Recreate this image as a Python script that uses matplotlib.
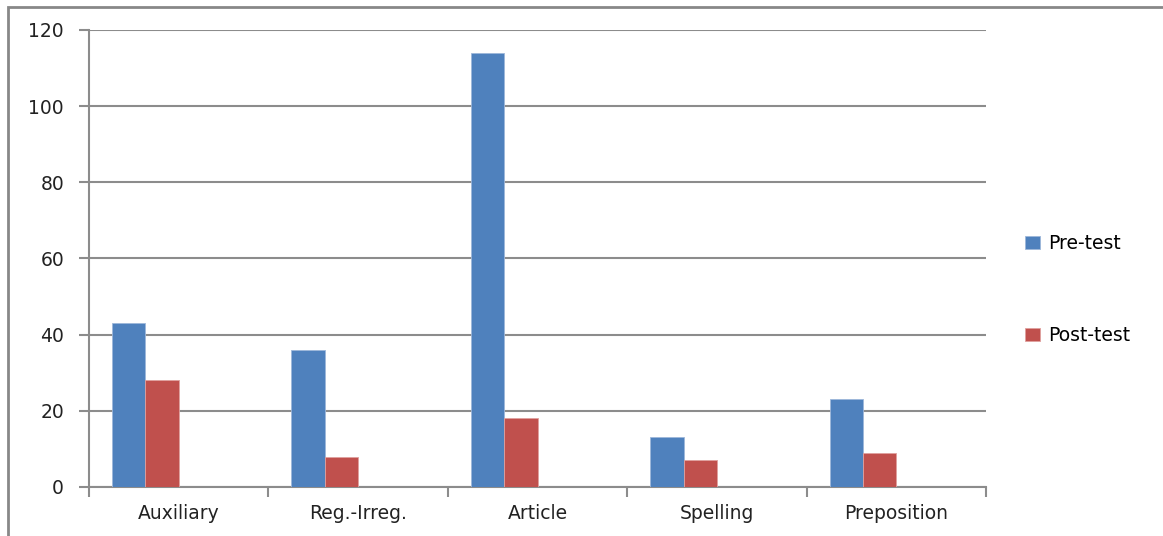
import numpy as np
import matplotlib.pyplot as plt
import matplotlib.patches as patches

# Data
categories = ['Auxiliary', 'Reg.-Irreg.', 'Article', 'Spelling', 'Preposition']
pre_test = [43, 36, 114, 13, 23]
post_test = [28, 8, 18, 7, 9]
y_ticks = [0, 20, 40, 60, 80, 100, 120]

blue = '#4F81BD'
red = '#C0504D'
grey = '#8C8C8C'
fs = 13.5

fig = plt.figure(figsize=(11.63, 5.36), dpi=100)
ax = fig.add_axes([89 / 1163, 1 - 487 / 536, (986 - 89) / 1163, (487 - 29.8) / 536])

x = np.arange(len(categories))
w = 0.186
ax.bar(x - 0.279, pre_test, w, color=blue, edgecolor='#9DB7DA', linewidth=0.6,
       label='Pre-test', zorder=3)
ax.bar(x - 0.093, post_test, w, color=red, edgecolor='#E0A09E', linewidth=0.6,
       label='Post-test', zorder=3)

ax.set_xlim(-0.5, len(categories) - 0.5)
ax.set_ylim(0, 120)
ax.set_yticks(y_ticks)
ax.yaxis.grid(True, color=grey, linewidth=1.5, zorder=0)

# category boundaries as major ticks, names on minor ticks
ax.set_xticks(np.arange(len(categories) + 1) - 0.5)
ax.set_xticklabels([])
ax.set_xticks(x, minor=True)
ax.set_xticklabels(categories, minor=True, fontsize=fs, color='#222222')
ax.tick_params(axis='x', which='minor', length=0, pad=12)
ax.tick_params(axis='x', which='major', length=7, width=1.5, color=grey)
ax.tick_params(axis='y', length=7, width=1.5, color=grey, pad=11,
               labelsize=fs, labelcolor='#222222')

for s in ['top', 'right']:
    ax.spines[s].set_visible(False)
for s in ['left', 'bottom']:
    ax.spines[s].set_color(grey)
    ax.spines[s].set_linewidth(1.5)

fig.legend(loc='center left', bbox_to_anchor=(1025 / 1163, 1 - 289.5 / 536),
           frameon=False, fontsize=fs, labelspacing=3.9, handlelength=0.8,
           handleheight=0.7, handletextpad=0.45, borderpad=0, borderaxespad=0)

# outer chart border
fig.patches.append(patches.Rectangle((8 / 1163, -0.1), 1.2, 1.1 - 7 / 536,
                                     transform=fig.transFigure, fill=False,
                                     edgecolor='#888888', linewidth=2))

fig.savefig('out.png', dpi=100)
